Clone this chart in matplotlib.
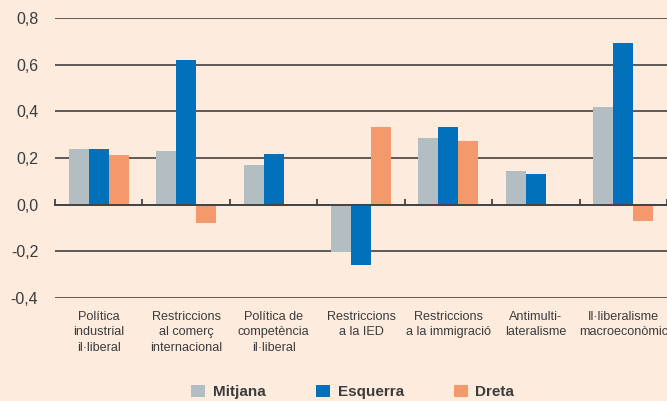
import matplotlib
matplotlib.use("Agg")
import matplotlib.pyplot as plt
from matplotlib.patches import Patch
import numpy as np

# dades llegides del gràfic
categories = ["Política\nindustrial\nil·liberal",
              "Restriccions\nal comerç\ninternacional",
              "Política de\ncompetència\nil·liberal",
              "Restriccions\na la IED",
              "Restriccions\na la immigració",
              "Antimulti-\nlateralisme",
              "Il·liberalisme\nmacroeconòmic"]
mitjana = [0.237, 0.228, 0.172, -0.202, 0.284, 0.146, 0.417]
esquerra = [0.237, 0.619, 0.219, -0.257, 0.335, 0.133, 0.692]
dreta = [0.215, -0.077, np.nan, 0.335, 0.275, np.nan, -0.072]
series_names = ["Mitjana", "Esquerra", "Dreta"]
yticks = [-0.4, -0.2, 0.0, 0.2, 0.4, 0.6, 0.8]

bg = "#FDEBDD"
colors = ["#B3BEC3", "#0071BA", "#F4996C"]
txt = "#3C3C3C"

plt.rcParams['font.family'] = ['Liberation Sans', 'DejaVu Sans']

fig = plt.figure(figsize=(6.67, 4.01), dpi=100, facecolor=bg)
ax = fig.add_axes([55/667, 1-298/401, 612/667, 280/401])
ax.set_facecolor(bg)

x = np.arange(len(categories))
w = 0.229
for k, vals in enumerate([mitjana, esquerra, dreta]):
    ax.bar(x + (k-1)*w, vals, width=w, color=colors[k], zorder=3)

ax.set_xlim(-0.5, len(categories)-0.5)
ax.set_ylim(-0.4, 0.8)
ax.set_yticks(yticks)
ax.set_yticklabels([f"{v:.1f}".replace(".", ",") for v in yticks],
                   fontsize=11.5, color=txt)
ax.tick_params(axis='y', length=0, pad=12)
ax.yaxis.grid(True, color="#333333", linewidth=1.1)
ax.set_axisbelow(True)

for s in ["left", "right", "top"]:
    ax.spines[s].set_visible(False)
ax.spines["bottom"].set_position(("data", 0))
ax.spines["bottom"].set_color("#444444")
ax.spines["bottom"].set_linewidth(1.4)
ax.spines["bottom"].set_zorder(4)

ax.set_xticks(np.arange(-0.5, len(categories)), minor=True)
ax.set_xticks([])
ax.tick_params(axis='x', which='minor', direction='in', length=4,
               width=1.3, color="#444444")

for i, lab in enumerate(categories):
    ax.text(i, -0.455, lab, ha='center', va='top', fontsize=9.1,
            color=txt, linespacing=1.4)

handles = [Patch(facecolor=c, label=n) for c, n in zip(colors, series_names)]
fig.legend(handles=handles, loc='lower center', bbox_to_anchor=(0.529, -0.03),
           ncol=3, frameon=False, handlelength=0.92, handleheight=0.92,
           handletextpad=0.5, columnspacing=3.28,
           prop={'size': 11, 'weight': 'bold'}, labelcolor=txt)

fig.savefig("out.png", dpi=100, facecolor=bg)
